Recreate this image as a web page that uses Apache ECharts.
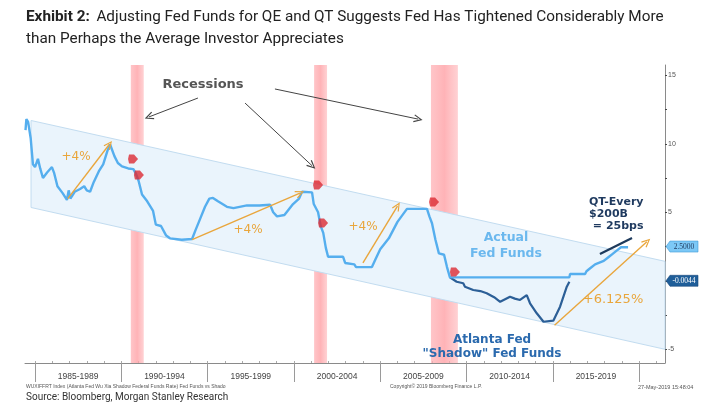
<!DOCTYPE html>
<html><head><meta charset="utf-8">
<script src="https://cdn.jsdelivr.net/npm/echarts@6/dist/echarts.min.js"></script>
<style>html,body{margin:0;padding:0;background:#fff}#c{width:707px;height:413px}</style>
</head><body><div id="c"></div>
<script>
// ---- data ----
const periodTicks = [1985, 1990, 1995, 2000, 2005, 2010, 2015, 2020];
const periodLabels = ['1985-1989', '1990-1994', '1995-1999', '2000-2004', '2005-2009', '2010-2014', '2015-2019'];
const yTickLabels = [-5, 5, 10, 15];

const fedYears = [1984.45, 1984.5, 1984.6, 1984.75, 1984.88, 1985.0, 1985.17, 1985.3, 1985.46, 1985.7, 1985.98, 1986.1, 1986.3, 1986.6, 1986.85, 1986.95, 1987.05, 1987.3, 1987.61, 1987.85, 1988.0, 1988.19, 1988.4, 1988.7, 1988.95, 1989.2, 1989.35, 1989.6, 1989.8, 1990.04, 1990.4, 1990.7, 1990.85, 1991.0, 1991.2, 1991.5, 1991.84, 1992.0, 1992.3, 1992.6, 1992.82, 1993.5, 1994.1, 1994.3, 1994.56, 1994.85, 1995.1, 1995.31, 1995.6, 1996.12, 1996.5, 1997.28, 1998.0, 1998.62, 1998.8, 1999.02, 1999.45, 1999.7, 1999.95, 2000.3, 2000.47, 2001.05, 2001.15, 2001.4, 2001.55, 2001.7, 2001.85, 2001.98, 2002.85, 2002.97, 2003.5, 2003.6, 2004.52, 2004.7, 2005.0, 2005.5, 2006.0, 2006.55, 2007.71, 2007.85, 2008.0, 2008.2, 2008.4, 2008.7, 2008.87, 2009.04, 2015.96, 2016.0, 2016.87, 2016.95, 2017.2, 2017.45, 2017.95, 2018.2, 2018.45, 2018.7, 2018.95, 2019.36];
const fedRates = [11.0, 11.8, 11.6, 10.4, 8.5, 8.3, 8.9, 8.2, 7.5, 7.9, 8.3, 7.9, 6.9, 6.4, 5.9, 6.6, 6.0, 6.5, 6.7, 6.9, 6.6, 6.5, 7.2, 8.0, 8.5, 9.5, 9.95, 9.1, 8.6, 8.35, 8.2, 8.15, 7.8, 7.3, 6.3, 5.8, 5.1, 4.1, 4.0, 3.3, 3.1, 3.0, 3.05, 3.7, 4.5, 5.4, 6.0, 6.05, 5.8, 5.4, 5.3, 5.5, 5.5, 5.55, 5.0, 4.7, 4.8, 5.2, 5.6, 6.0, 6.5, 6.45, 5.6, 5.0, 4.0, 3.5, 2.4, 1.75, 1.75, 1.3, 1.2, 1.0, 1.0, 1.5, 2.3, 3.1, 4.3, 5.25, 5.25, 4.7, 4.2, 3.0, 2.0, 1.9, 1.0, 0.25, 0.25, 0.5, 0.5, 0.7, 0.95, 1.2, 1.45, 1.7, 1.95, 2.2, 2.45, 2.45];

const shadowYears = [2009.04, 2009.14, 2009.43, 2009.81, 2009.91, 2010.39, 2010.8, 2011.17, 2011.6, 2011.95, 2012.52, 2012.8, 2013.1, 2013.49, 2013.68, 2014.07, 2014.46, 2015.03, 2015.42, 2015.81, 2015.96];
const shadowRates = [0.25, 0.18, -0.07, -0.18, -0.43, -0.67, -0.75, -0.91, -1.2, -1.53, -1.16, -1.3, -1.4, -1.04, -1.64, -2.37, -2.99, -2.91, -1.89, -0.43, -0.07];

const qtYears = [2017.73, 2019.59];
const qtRates = [1.96, 3.12];

const channelYears = [1984.77, 2021.5];
const channelUpper = [11.7, 1.42];
const channelLower = [5.35, -5.0];

const recessionStart = [1990.55, 2001.17, 2007.94];
const recessionEnd = [1991.3, 2001.92, 2009.5];

const markerYears = [1990.68, 1991.02, 2001.4, 2001.69, 2008.12, 2009.33];
const markerRates = [8.89, 7.72, 6.99, 4.22, 5.75, 0.64];

const lastFed = '2.5000';
const lastShadow = '-0.0044';
// ---------------

const X_MIN = 1984.42, X_MAX = 2021.5;
const pair = (xs, ys) => xs.map((x, i) => [x, ys[i]]);
const yearTicks = [];
for (let y = 1985; y <= 2021; y++) yearTicks.push(y);
const chevron = 'path://M5,0 L10,10 L8.6,10.6 L5,3 L1.4,10.6 L0,10 Z';
const orange = '#E9A63C';
const arrow = (a, b, color, w) => [
  { coord: a, symbol: 'none', lineStyle: { color: color, width: w, type: 'solid' } },
  { coord: b, symbol: chevron, symbolSize: [8, 9] }
];
const txt = (x, y, text, font, fill, extra) => ({
  type: 'text', x: x, y: y, z: 100,
  style: Object.assign({ text: text, font: font, fill: fill, align: 'center', verticalAlign: 'middle' }, extra || {})
});

const chart = echarts.init(document.getElementById('c'), null, { renderer: 'canvas' });
chart.setOption({
  animation: false,
  backgroundColor: '#fff',
  grid: { left: 25, right: 42, top: 65, bottom: 50, containLabel: false },
  xAxis: [{
    type: 'value', min: X_MIN, max: X_MAX,
    splitLine: { show: false },
    axisLine: { show: true, onZero: false, lineStyle: { color: '#8a8a8a', width: 1 } },
    axisTick: { show: true, customValues: periodTicks, length: 19, lineStyle: { color: '#9a9a9a' } },
    axisLabel: {
      customValues: periodTicks.slice(0, -1).map(v => v + 2.5),
      formatter: v => periodLabels[Math.round((v - 1987.5) / 5)] || '',
      color: '#444', fontSize: 8.5, fontFamily: 'Liberation Sans', margin: 9
    }
  }, {
    type: 'value', min: X_MIN, max: X_MAX, position: 'bottom',
    splitLine: { show: false }, axisLine: { show: false, onZero: false },
    axisTick: { show: true, inside: true, customValues: yearTicks, length: 2, lineStyle: { color: '#aaa' } },
    axisLabel: { show: false }
  }],
  yAxis: {
    type: 'value', position: 'right', min: -6, max: 15.75,
    splitLine: { show: false },
    axisLine: { show: true, onZero: false, lineStyle: { color: '#8a8a8a' } },
    axisTick: { show: true, customValues: [-5, -2.5, 0, 2.5, 5, 7.5, 10, 12.5, 15], length: 2, lineStyle: { color: '#444', width: 1.2 } },
    axisLabel: { customValues: yTickLabels, color: '#555', fontSize: 7, fontFamily: 'Liberation Sans', margin: 3 }
  },
  series: [
    {
      name: 'channel', type: 'custom', coordinateSystem: 'cartesian2d', silent: true, z: 1,
      data: [[channelYears[0], channelUpper[0]]],
      renderItem: (params, api) => {
        const pts = [];
        for (let i = 0; i < channelYears.length; i++) pts.push(api.coord([channelYears[i], channelUpper[i]]));
        for (let i = channelYears.length - 1; i >= 0; i--) pts.push(api.coord([channelYears[i], channelLower[i]]));
        return { type: 'polygon', shape: { points: pts }, style: { fill: '#EAF4FC', stroke: '#C2DCF0', lineWidth: 1 } };
      }
    },
    {
      name: 'recessions', type: 'line', z: 2, silent: true, showSymbol: false,
      data: [[X_MIN, null]], lineStyle: { opacity: 0 },
      markArea: {
        silent: true,
        itemStyle: {
          color: { type: 'linear', x: 0, y: 0, x2: 1, y2: 0, colorStops: [
            { offset: 0, color: 'rgba(255,178,182,0.75)' },
            { offset: 0.5, color: 'rgba(255,160,165,0.8)' },
            { offset: 1, color: 'rgba(255,190,193,0.7)' }] }
        },
        data: recessionStart.map((s, i) => [{ xAxis: s }, { xAxis: recessionEnd[i] }])
      }
    },
    {
      name: 'Atlanta Fed Shadow Fed Funds', type: 'line', z: 3, showSymbol: false, silent: true,
      data: pair(shadowYears, shadowRates),
      lineStyle: { color: '#2C5F97', width: 2.2 }
    },
    {
      name: 'QT adjusted', type: 'line', z: 3, showSymbol: false, silent: true,
      data: pair(qtYears, qtRates),
      lineStyle: { color: '#1E3A5C', width: 2.2 }
    },
    {
      name: 'Actual Fed Funds', type: 'line', z: 4, showSymbol: false, silent: true,
      data: pair(fedYears, fedRates),
      lineStyle: { color: '#55AEEE', width: 2.4 },
      markLine: {
        silent: true, animation: false, label: { show: false },
        data: [
          arrow([1986.9, 6.0], [1989.3, 9.95], orange, 1.4),
          arrow([1994.1, 3.0], [2000.35, 6.4], orange, 1.4),
          arrow([2004.0, 1.3], [2006.0, 5.45], orange, 1.4),
          arrow([2015.1, -3.25], [2020.45, 2.85], orange, 1.4),
          arrow([1994.44, 13.34], [1991.6, 11.96], '#444', 1),
          arrow([1997.17, 12.97], [2001.05, 8.4], '#444', 1),
          arrow([1998.9, 14.0], [2007.2, 11.8], '#444', 1)
        ]
      },
      markPoint: {
        silent: true, animation: false,
        data: [
          { coord: [X_MAX, 2.5], symbol: 'path://M0,5 L4,0 L32,0 L32,10 L4,10 Z', symbolSize: [32, 11], symbolOffset: [17, 0],
            itemStyle: { color: '#7CC8F6', borderColor: '#3E97D4', borderWidth: 0.5 },
            label: { show: true, formatter: lastFed, color: '#1F3A5F', fontSize: 7.5, fontFamily: 'Liberation Serif', offset: [2, 0] } },
          { coord: [X_MAX, 0], symbol: 'path://M0,5 L4,0 L32,0 L32,10 L4,10 Z', symbolSize: [32, 11], symbolOffset: [17, 0],
            itemStyle: { color: '#1F5E99', borderColor: '#17477A', borderWidth: 0.5 },
            label: { show: true, formatter: lastShadow, color: '#fff', fontSize: 7.5, fontFamily: 'Liberation Serif', offset: [2, 0] } }
        ]
      }
    },
    {
      name: 'events', type: 'scatter', z: 5, silent: true,
      symbol: 'path://M1,0 L6,0 L10,5 L6,10 L1,10 L0,5 Z', symbolSize: [10, 9],
      itemStyle: { color: '#DC2A33' },
      data: pair(markerYears, markerRates)
    }
  ],
  graphic: [
    { type: 'text', left: 26, top: 10, z: 100, style: {
      text: '{b|Exhibit 2:}  {n|Adjusting Fed Funds for QE and QT Suggests Fed Has Tightened Considerably More}\n{n|than Perhaps the Average Investor Appreciates}',
      rich: {
        b: { fontFamily: 'Roboto', fontWeight: 'bold', fontSize: 15.3, fill: '#222', lineHeight: 22 },
        n: { fontFamily: 'Roboto', fontSize: 15.3, fill: '#222', lineHeight: 22 }
      } } },
    { type: 'text', left: 26, top: 392, z: 100, style: { text: 'Source: Bloomberg, Morgan Stanley Research', font: '10px Roboto', fill: '#333' } },
    { type: 'text', left: 26, top: 384, z: 100, style: { text: 'WUXIFFRT Index (Atlanta Fed Wu Xia Shadow Federal Funds Rate) Fed Funds vs Shado', font: '5px "Liberation Sans"', fill: '#555' } },
    { type: 'text', left: 390, top: 384, z: 100, style: { text: 'Copyright\u00A9 2019 Bloomberg Finance L.P.', font: '5px "Liberation Sans"', fill: '#555' } },
    { type: 'text', left: 638, top: 384, z: 100, style: { text: '27-May-2019 15:48:04', font: '5.5px "Liberation Sans"', fill: '#555' } },
    txt(203, 85, 'Recessions', 'bold 13px "DejaVu Sans"', '#555'),
    txt(76, 157, '+4%', '12px "DejaVu Sans"', orange),
    txt(248, 230, '+4%', '12px "DejaVu Sans"', orange),
    txt(363, 227, '+4%', '12px "DejaVu Sans"', orange),
    txt(613, 300, '+6.125%', '13px "DejaVu Sans"', orange),
    txt(506, 246, 'Actual\nFed Funds', 'bold 12.5px "DejaVu Sans"', '#6BB8EE', { lineHeight: 16 }),
    txt(492, 347, 'Atlanta Fed\n"Shadow" Fed Funds', 'bold 12px "DejaVu Sans"', '#2B6AAE', { lineHeight: 14 }),
    txt(589, 214, 'QT-Every\n$200B\n = 25bps', 'bold 11px "DejaVu Sans"', '#1F3A5F', { align: 'left', lineHeight: 12 })
  ]
});
</script>
</body></html>
